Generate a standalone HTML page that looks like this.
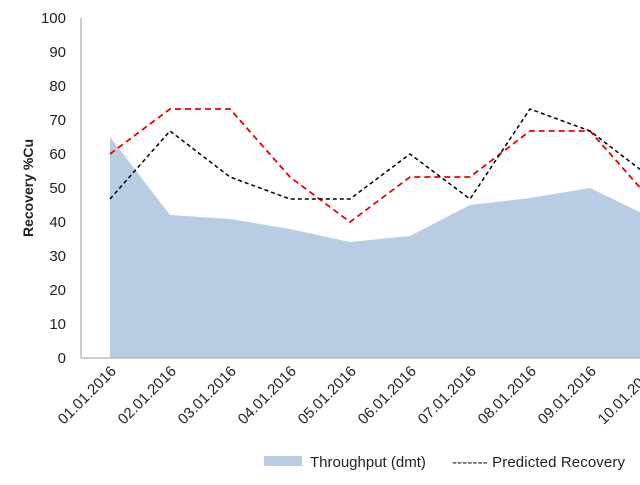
<!DOCTYPE html><html><head><style>body{margin:0;background:#fff}svg{font-family:"Liberation Sans",sans-serif}</style></head><body>
<svg width="640" height="480" xmlns="http://www.w3.org/2000/svg">
<g font-size="15" fill="#222" text-anchor="end">
<text x="66" y="23">100</text><text x="66" y="57">90</text><text x="66" y="91">80</text><text x="66" y="125">70</text><text x="66" y="159">60</text><text x="66" y="193">50</text><text x="66" y="227">40</text><text x="66" y="261">30</text><text x="66" y="295">20</text><text x="66" y="329">10</text><text x="66" y="363">0</text>
</g>
<text transform="translate(33,188) rotate(-90)" text-anchor="middle" font-size="14" font-weight="bold" fill="#222">Recovery %Cu</text>
<polygon fill="#b8cce4" points="110,358 110,137 170,215 230,219 290,229 350,242 410,236 470,205 530,198 590,188 650,217 650,358"/>
<line x1="81" y1="18" x2="81" y2="358" stroke="#bbb" stroke-width="1.5"/>
<line x1="81" y1="358" x2="640" y2="358" stroke="#bbb" stroke-width="1.5"/>
<polyline fill="none" stroke="#e00" stroke-width="1.8" stroke-dasharray="6,4" points="110,154 170,109 230,109 290,177 350,222 410,177 470,177 530,131 590,131 650,199"/>
<polyline fill="none" stroke="#000" stroke-width="1.5" stroke-dasharray="4,3" points="110,199 170,131 230,177 290,199 350,199 410,154 470,199 530,109 590,131 650,177"/>
<g font-size="15" fill="#222" text-anchor="end">
<text transform="translate(117,372) rotate(-45)">01.01.2016</text>
<text transform="translate(177,372) rotate(-45)">02.01.2016</text>
<text transform="translate(237,372) rotate(-45)">03.01.2016</text>
<text transform="translate(297,372) rotate(-45)">04.01.2016</text>
<text transform="translate(357,372) rotate(-45)">05.01.2016</text>
<text transform="translate(417,372) rotate(-45)">06.01.2016</text>
<text transform="translate(477,372) rotate(-45)">07.01.2016</text>
<text transform="translate(537,372) rotate(-45)">08.01.2016</text>
<text transform="translate(597,372) rotate(-45)">09.01.2016</text>
<text transform="translate(657,372) rotate(-45)">10.01.2016</text>
</g>
<rect x="264" y="456" width="38" height="10" fill="#b8cce4"/>
<text x="310" y="467" font-size="15" fill="#222">Throughput (dmt)</text>
<text x="452" y="467" font-size="15" fill="#222" textLength="173">------- Predicted Recovery</text>
</svg></body></html>
